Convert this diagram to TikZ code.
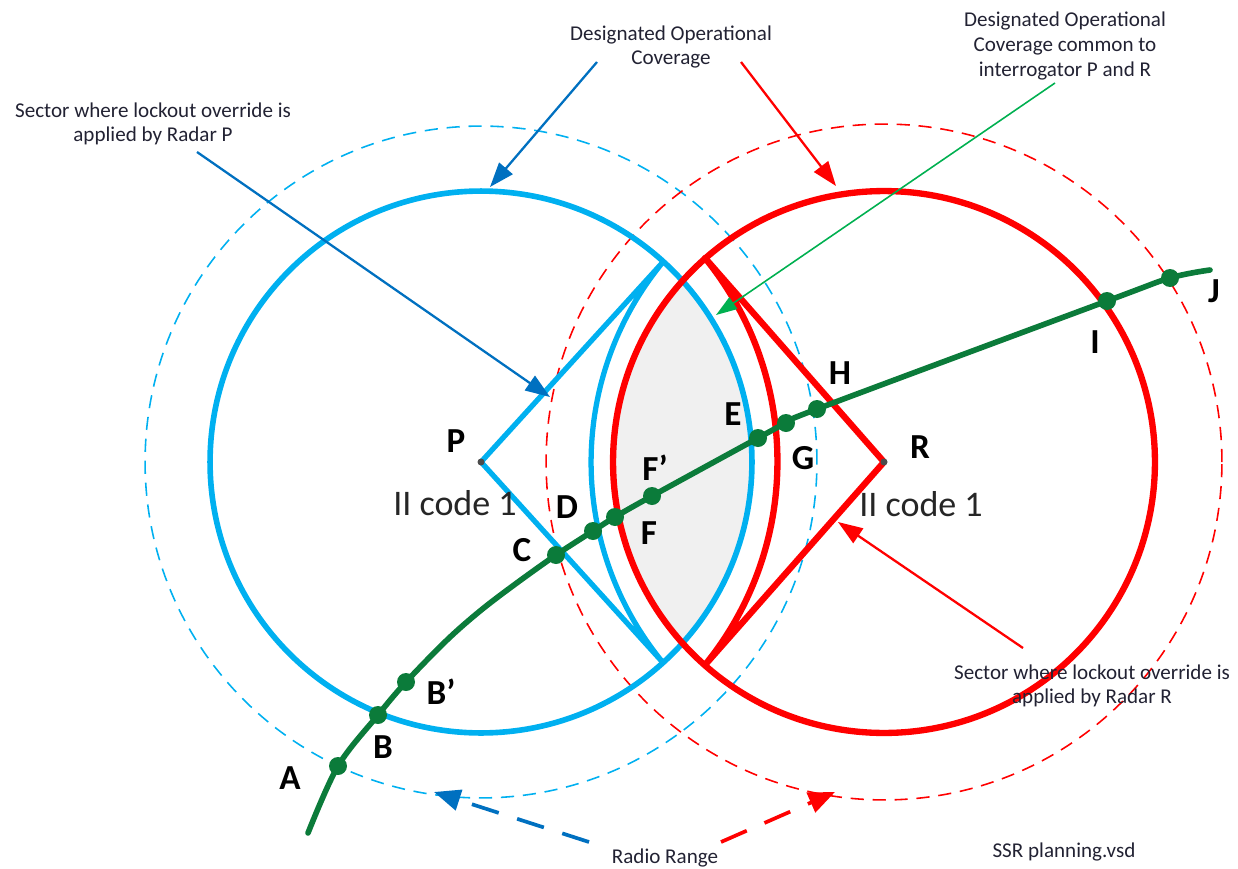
\documentclass[tikz,border=0pt]{standalone}
\usepackage{fontspec}
\setmainfont{Carlito}
\usetikzlibrary{arrows.meta}
\definecolor{cov}{HTML}{00B0F0}
\definecolor{darr}{HTML}{0070C0}
\definecolor{rd}{HTML}{FF0000}
\definecolor{trk}{HTML}{0B7B3A}
\definecolor{garr}{HTML}{00B050}
\definecolor{lens}{HTML}{F0F0F0}
\definecolor{txt}{HTML}{222233}
\begin{document}
\begin{tikzpicture}[x=0.02cm,y=-0.02cm,
  covP/.style={draw=cov, line width=3.2pt},
  covR/.style={draw=rd, line width=3.6pt},
  rangeP/.style={draw=cov, line width=0.9pt, dash pattern=on 7.5pt off 5pt},
  rangeR/.style={draw=rd, line width=0.9pt, dash pattern=on 7.5pt off 5pt},
  secP/.style={draw=cov, line width=3pt, line join=round},
  secR/.style={draw=rd, line width=3.6pt, line join=round},
  track/.style={draw=trk, line width=3.2pt, line cap=round},
  tdot/.style={circle, fill=trk, minimum size=0.36cm, inner sep=0pt},
  cdot/.style={circle, fill=black!70, minimum size=0.14cm, inner sep=0pt},
  lbl/.style={font=\bfseries\fontsize{20}{24}\selectfont, text=black, inner sep=0pt},
  codetxt/.style={font=\fontsize{20.5}{24}\selectfont, text=black!85, inner sep=0pt},
  captxt/.style={font=\fontsize{12}{14}\selectfont, text=txt, align=center, inner sep=0pt},
  callB/.style={draw=darr, line width=1.3pt, -{Triangle[length=14pt,width=10pt]}},
  callR/.style={draw=rd, line width=1.3pt, -{Triangle[length=14pt,width=10pt]}},
  callG/.style={draw=garr, line width=0.9pt, -{Triangle[length=12pt,width=8pt]}},
  radioB/.style={draw=darr, line width=2.1pt, dash pattern=on 16pt off 11pt, -{Triangle[length=15pt,width=12pt]}},
  radioR/.style={draw=rd, line width=2.1pt, dash pattern=on 16pt off 11pt, -{Triangle[length=15pt,width=12pt]}}
]
\useasboundingbox (0,0) rectangle (1238,869);

% centres
\coordinate (P) at (481,462);
\coordinate (R) at (884,462);
\coordinate (bs1) at (663,262);
\coordinate (rs1) at (705,258);

% common coverage lens
\begin{scope}
  \clip (P) circle[radius=5.42cm];
  \fill[lens] (R) circle[radius=5.42cm];
\end{scope}

% radio ranges
\draw[rangeP] (P) circle[radius=6.72cm];
\draw[rangeR] (R) circle[radius=6.76cm];

% designated operational coverage
\draw[covP] (P) circle[radius=5.42cm];
\draw[covR] (R) circle[radius=5.42cm];

% lockout override sectors
\draw[secP] (P) -- (bs1) arc[start angle=140.5, end angle=219.5, radius=6.3cm] -- cycle;
\draw[secR] (R) -- (rs1) arc[start angle=39.2, end angle=-39.2, radius=6.44cm] -- cycle;

\node[cdot] (Pdot) at (P) {};
\node[cdot] (Rdot) at (R) {};

% track
\coordinate (t0) at (308,833);
\coordinate (A) at (338,766);
\coordinate (B) at (378,715);
\coordinate (Bp) at (406,682);
\coordinate (m1) at (447,640);
\coordinate (m2) at (480,611);
\coordinate (m3) at (514,585);
\coordinate (C) at (556,555);
\coordinate (D) at (593,531);
\coordinate (X) at (615,517);
\coordinate (Fp) at (652,496);
\coordinate (E) at (758,438);
\coordinate (G) at (786,423);
\coordinate (H) at (817,409);
\coordinate (I) at (1107,301);
\coordinate (J) at (1170,278);
\coordinate (t1) at (1210,270);
\draw[track] plot[smooth, tension=0.55] coordinates {(t0) (A) (B) (Bp) (m1) (m2) (m3) (C) (D) (X) (Fp) (E) (G) (H) (I) (J) (t1)};
\foreach \n in {A,B,Bp,C,D,X,Fp,E,G,H,I,J} \node[tdot] (d\n) at (\n) {};

% letters
\node[lbl] (lA) at (290,778) {A};
\node[lbl] (lB) at (383,747) {B};
\node[lbl] (lBp) at (441,692) {B’};
\node[lbl] (lC) at (522,550) {C};
\node[lbl] (lD) at (567,507) {D};
\node[lbl] (lFp) at (655,468) {F’};
\node[lbl] (lF) at (649,533) {F};
\node[lbl] (lE) at (733,414) {E};
\node[lbl] (lG) at (803,458) {G};
\node[lbl] (lH) at (840,373) {H};
\node[lbl] (lI) at (1095,342) {I};
\node[lbl] (lJ) at (1214,291) {J};
\node[lbl] (lP) at (456,441) {P};
\node[lbl] (lR) at (920,447) {R};
\node[codetxt] (cP) at (455,503) {II code 1};
\node[codetxt] (cR) at (921,504) {II code 1};

% captions
\node[captxt] (capP) at (153,124) {Sector where lockout override is\\applied by Radar P};
\node[captxt] (capDOC) at (671,47) {Designated Operational\\Coverage};
\node[captxt] (capCom) at (1065,46) {Designated Operational\\Coverage common to\\interrogator P and R};
\node[captxt] (capR) at (1092,686) {Sector where lockout override is\\applied by Radar R};
\node[captxt] (capRR) at (665,858) {Radio Range};
\node[captxt] (capSSR) at (1064,852) {SSR planning.vsd};

% callout arrows
\coordinate (aP0) at (197,152);  \coordinate (aP1) at (550,397);
\coordinate (dB0) at (597,62);   \coordinate (dB1) at (490,187);
\coordinate (dR0) at (741,62);   \coordinate (dR1) at (836,186);
\coordinate (g0) at (1055,83);   \coordinate (g1) at (716,315);
\coordinate (aR0) at (1023,648); \coordinate (aR1) at (838,522);
\coordinate (rB0) at (589,842);  \coordinate (rB1) at (434,792);
\coordinate (rR0) at (721,842);  \coordinate (rR1) at (835,792);
\draw[callB] (aP0) -- (aP1);
\draw[callB] (dB0) -- (dB1);
\draw[callR] (dR0) -- (dR1);
\draw[callG] (g0) -- (g1);
\draw[callR] (aR0) -- (aR1);
\draw[radioB] (rB0) -- (rB1);
\draw[radioR] (rR0) -- (rR1);
\end{tikzpicture}
\end{document}
